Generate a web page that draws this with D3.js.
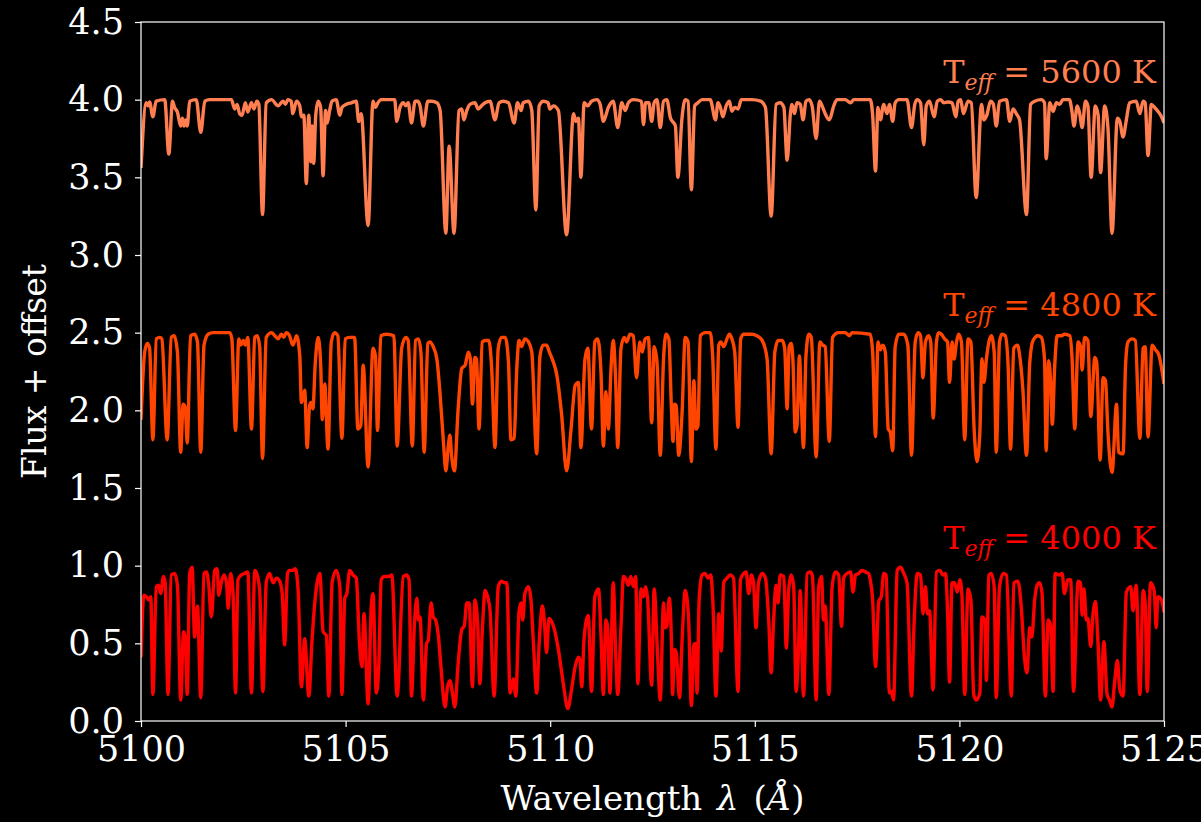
<!DOCTYPE html>
<html>
<head>
<meta charset="utf-8">
<script src="https://cdn.jsdelivr.net/npm/d3@7"></script>
<style>
  body { margin: 0; background: #000; }
  svg { display: block; }
  text { font-family: "DejaVu Serif", serif; fill: #fff; }
</style>
</head>
<body>
<div id="chart"></div>
<script>
// wavelength is lambda0 + first value, second value is normalised flux
const lambda0 = 5100;

const spec5600 = [
  [0.00,0.56],[0.13,0.98],[0.17,0.96],[0.21,0.985],[0.29,0.89],[0.37,0.99],[0.58,1.0],[0.68,0.65],[0.77,0.99],[0.82,0.95],
  [0.89,0.92],[0.97,0.83],[1.01,0.88],[1.05,0.83],[1.09,0.87],[1.13,0.83],[1.19,0.99],[1.35,1.0],[1.46,0.79],[1.56,0.99],
  [1.68,1.0],[2.21,1.0],[2.29,0.94],[2.35,0.97],[2.41,0.91],[2.47,0.90],[2.55,0.98],[2.61,0.92],[2.70,0.98],[2.76,0.94],
  [2.83,0.99],[2.88,0.97],[2.97,0.26],[3.06,0.98],[3.19,1.0],[3.35,0.96],[3.47,0.99],[3.53,0.97],[3.59,1.0],[3.67,0.99],
  [3.71,0.91],[3.80,0.99],[3.88,0.96],[3.92,0.89],[3.98,0.90],[4.04,0.46],[4.10,0.90],[4.15,0.60],[4.18,0.83],[4.22,0.59],
  [4.27,0.90],[4.33,0.99],[4.39,0.95],[4.45,0.51],[4.51,0.93],[4.55,0.85],[4.61,0.93],[4.67,0.99],[4.77,1.0],[4.86,0.90],
  [4.91,0.95],[5.02,0.97],[5.14,0.98],[5.26,0.99],[5.32,0.86],[5.38,0.91],[5.55,0.19],[5.67,0.99],[5.73,0.95],[5.79,0.98],
  [5.87,1.0],[6.20,1.0],[6.25,0.86],[6.33,0.95],[6.41,0.98],[6.47,0.96],[6.53,0.98],[6.61,0.85],[6.70,0.99],[6.76,0.99],
  [6.82,0.96],[6.90,0.83],[7.01,0.99],[7.10,0.99],[7.23,0.98],[7.31,0.93],[7.45,0.14],[7.53,0.70],[7.65,0.14],[7.77,0.93],
  [7.84,0.94],[7.89,0.87],[7.96,0.93],[8.04,0.97],[8.16,0.98],[8.24,0.94],[8.32,0.96],[8.41,0.98],[8.53,0.99],[8.65,0.87],
  [8.75,0.98],[8.85,0.99],[8.98,0.98],[9.12,0.85],[9.20,0.98],[9.29,0.93],[9.34,0.98],[9.47,0.99],[9.55,0.93],[9.65,0.29],
  [9.73,0.96],[9.83,0.99],[9.95,0.98],[9.99,0.94],[10.08,0.96],[10.20,0.93],[10.40,0.13],[10.57,0.91],[10.63,0.86],[10.69,0.88],
  [10.75,0.50],[10.83,0.98],[10.92,0.96],[11.01,0.99],[11.14,1.0],[11.22,0.97],[11.30,0.86],[11.42,0.95],[11.54,0.99],[11.65,0.82],
  [11.75,0.98],[11.83,0.93],[11.91,0.98],[12.03,1.0],[12.23,0.99],[12.28,0.84],[12.33,0.98],[12.41,0.98],[12.48,0.86],[12.54,0.98],
  [12.61,1.0],[12.69,0.82],[12.77,0.99],[12.85,1.0],[12.94,0.88],[13.02,0.85],[13.06,0.83],[13.12,0.50],[13.22,0.88],[13.30,1.0],
  [13.37,0.99],[13.45,0.42],[13.53,0.96],[13.61,0.98],[13.71,1.0],[13.91,1.0],[14.04,0.87],[14.10,0.98],[14.16,0.95],[14.22,0.89],
  [14.30,0.96],[14.38,0.99],[14.44,0.925],[14.51,0.95],[14.59,0.94],[14.67,1.0],[14.93,1.0],[15.14,0.99],[15.26,0.95],[15.40,0.25],
  [15.52,0.97],[15.62,0.98],[15.71,0.95],[15.79,0.61],[15.87,0.91],[15.91,0.97],[15.97,0.91],[16.03,0.98],[16.11,0.97],[16.18,0.87],
  [16.25,0.99],[16.33,1.0],[16.40,0.96],[16.50,0.75],[16.58,0.99],[16.66,0.95],[16.72,0.91],[16.82,0.87],[16.93,0.96],[17.01,1.0],
  [17.21,1.0],[17.34,0.98],[17.42,1.0],[17.82,1.0],[17.88,0.90],[17.95,0.54],[18.01,0.95],[18.07,0.87],[18.15,0.97],[18.23,0.91],
  [18.29,0.97],[18.37,0.86],[18.43,0.98],[18.52,1.0],[18.72,1.0],[18.83,0.82],[18.91,0.97],[18.97,1.0],[19.05,0.98],[19.13,0.71],
  [19.19,0.96],[19.27,0.99],[19.38,0.89],[19.46,0.99],[19.54,1.0],[19.62,0.98],[19.72,0.985],[19.82,0.98],[19.91,0.89],[19.97,0.99],
  [20.03,1.0],[20.10,0.91],[20.21,0.99],[20.29,0.98],[20.41,0.37],[20.54,0.97],[20.60,0.87],[20.67,0.90],[20.76,0.99],[20.83,0.97],
  [20.90,0.83],[20.98,0.99],[21.15,1.0],[21.23,0.86],[21.31,0.94],[21.39,0.91],[21.47,0.87],[21.64,0.26],[21.74,0.97],[21.84,0.99],
  [22.00,1.0],[22.08,0.98],[22.12,0.62],[22.21,0.98],[22.29,0.925],[22.37,0.98],[22.45,0.97],[22.53,1.0],[22.69,1.0],[22.75,0.925],
  [22.80,0.83],[22.88,0.96],[22.94,0.91],[23.00,0.82],[23.08,0.99],[23.14,0.96],[23.22,0.50],[23.32,0.96],[23.39,0.90],[23.45,0.53],
  [23.55,0.96],[23.63,0.82],[23.73,0.14],[23.86,0.88],[23.92,0.86],[24.00,0.76],[24.08,0.87],[24.16,0.98],[24.32,0.99],[24.41,0.91],
  [24.49,0.99],[24.54,0.98],[24.61,0.64],[24.69,0.97],[24.77,0.95],[24.85,0.925],[24.92,0.90],[25.0,0.85]
];

const spec4800 = [
  [0.0,0.44],[0.09,0.875],[0.155,0.93],[0.21,0.90],[0.29,0.31],[0.375,0.96],[0.46,0.97],[0.51,0.96],[0.64,0.31],[0.74,0.97],
  [0.81,0.98],[0.89,0.875],[0.97,0.23],[1.03,0.54],[1.08,0.52],[1.13,0.29],[1.21,0.98],[1.31,0.99],[1.38,0.94],[1.46,0.23],
  [1.54,0.92],[1.64,0.99],[1.76,1.0],[2.17,1.0],[2.22,0.96],[2.31,0.37],[2.39,0.96],[2.44,0.92],[2.50,0.95],[2.55,0.92],
  [2.61,0.97],[2.70,0.38],[2.78,0.97],[2.84,0.98],[2.90,0.91],[2.97,0.19],[3.06,0.97],[3.19,1.0],[3.27,0.98],[3.35,0.96],
  [3.43,0.99],[3.49,0.97],[3.55,1.0],[3.63,0.98],[3.71,0.92],[3.76,0.95],[3.80,0.98],[3.88,0.85],[3.92,0.55],[4.00,0.63],
  [4.06,0.26],[4.12,0.53],[4.16,0.55],[4.20,0.51],[4.26,0.81],[4.33,0.97],[4.39,0.80],[4.43,0.44],[4.49,0.67],[4.57,0.25],
  [4.65,0.94],[4.73,1.0],[4.81,0.98],[4.91,0.32],[4.99,0.96],[5.10,0.97],[5.22,0.97],[5.30,0.38],[5.37,0.40],[5.43,0.79],
  [5.55,0.135],[5.67,0.90],[5.73,0.85],[5.78,0.37],[5.86,0.98],[6.00,0.99],[6.18,0.98],[6.26,0.27],[6.37,0.90],[6.47,0.97],
  [6.53,0.95],[6.63,0.27],[6.71,0.95],[6.78,0.96],[6.84,0.875],[6.92,0.23],[7.01,0.93],[7.06,0.94],[7.14,0.91],[7.23,0.83],
  [7.31,0.60],[7.39,0.30],[7.45,0.11],[7.51,0.27],[7.55,0.34],[7.59,0.21],[7.66,0.11],[7.75,0.51],[7.84,0.77],[7.92,0.79],
  [8.00,0.875],[8.05,0.83],[8.10,0.54],[8.16,0.84],[8.20,0.83],[8.26,0.38],[8.34,0.94],[8.41,0.95],[8.50,0.95],[8.57,0.77],
  [8.65,0.26],[8.73,0.90],[8.81,0.97],[8.90,0.97],[8.98,0.81],[9.04,0.31],[9.12,0.32],[9.18,0.75],[9.24,0.95],[9.30,0.91],
  [9.38,0.96],[9.47,0.94],[9.55,0.875],[9.67,0.22],[9.75,0.85],[9.83,0.92],[9.91,0.92],[9.98,0.875],[10.05,0.83],[10.16,0.73],
  [10.28,0.47],[10.40,0.11],[10.51,0.38],[10.61,0.66],[10.69,0.68],[10.75,0.26],[10.85,0.83],[10.92,0.90],[11.01,0.38],[11.09,0.94],
  [11.16,0.96],[11.24,0.75],[11.30,0.27],[11.36,0.62],[11.42,0.38],[11.49,0.79],[11.54,0.95],[11.60,0.69],[11.65,0.26],[11.73,0.90],
  [11.81,0.97],[11.87,0.94],[11.95,0.99],[12.03,0.98],[12.11,0.71],[12.19,0.94],[12.25,0.875],[12.32,0.96],[12.40,0.97],[12.48,0.42],
  [12.54,0.91],[12.61,0.81],[12.69,0.21],[12.77,0.83],[12.83,0.99],[12.90,0.96],[12.96,0.53],[13.00,0.30],[13.04,0.54],[13.08,0.53],
  [13.14,0.21],[13.22,0.47],[13.30,0.97],[13.37,0.94],[13.45,0.17],[13.51,0.69],[13.56,0.38],[13.61,0.40],[13.67,0.98],[13.79,1.0],
  [13.91,1.0],[13.97,0.85],[14.05,0.25],[14.12,0.92],[14.17,0.94],[14.24,0.91],[14.32,0.96],[14.38,0.99],[14.44,0.96],[14.51,0.875],
  [14.59,0.39],[14.655,0.96],[14.73,0.99],[14.93,0.99],[15.05,0.98],[15.18,0.95],[15.30,0.83],[15.40,0.22],[15.49,0.875],[15.57,0.95],
  [15.67,0.95],[15.73,0.90],[15.79,0.51],[15.84,0.91],[15.89,0.93],[15.93,0.83],[15.99,0.36],[16.03,0.40],[16.09,0.85],[16.14,0.53],
  [16.19,0.26],[16.25,0.85],[16.32,0.99],[16.38,0.97],[16.50,0.20],[16.59,0.94],[16.66,0.92],[16.72,0.91],[16.82,0.30],[16.90,0.97],
  [17.05,1.0],[17.21,1.0],[17.31,0.98],[17.38,1.0],[17.82,0.99],[17.88,0.875],[17.95,0.33],[18.01,0.94],[18.07,0.89],[18.13,0.92],
  [18.19,0.875],[18.26,0.38],[18.31,0.36],[18.37,0.24],[18.43,0.91],[18.52,0.99],[18.64,0.99],[18.74,0.92],[18.83,0.21],[18.92,0.94],
  [18.99,1.0],[19.05,0.98],[19.11,0.71],[19.17,0.94],[19.25,0.98],[19.30,0.94],[19.36,0.45],[19.44,0.94],[19.49,1.0],[19.56,0.99],
  [19.64,0.96],[19.71,0.94],[19.76,0.68],[19.82,0.94],[19.87,0.83],[19.93,0.94],[19.98,0.99],[20.05,0.94],[20.13,0.31],[20.21,0.96],
  [20.28,0.94],[20.36,0.38],[20.43,0.17],[20.50,0.36],[20.55,0.83],[20.60,0.68],[20.66,0.83],[20.72,0.94],[20.78,0.98],[20.85,0.875],
  [20.90,0.23],[20.98,0.94],[21.04,0.99],[21.12,0.98],[21.19,0.79],[21.25,0.25],[21.33,0.90],[21.42,0.92],[21.47,0.86],[21.55,0.64],
  [21.64,0.21],[21.72,0.81],[21.80,0.95],[21.92,0.98],[22.00,0.97],[22.08,0.83],[22.12,0.24],[22.18,0.82],[22.23,0.68],[22.27,0.41],
  [22.33,0.79],[22.39,0.98],[22.49,0.98],[22.57,0.99],[22.70,0.98],[22.75,0.85],[22.82,0.38],[22.90,0.94],[22.96,0.91],[23.00,0.76],
  [23.06,0.97],[23.14,0.95],[23.21,0.46],[23.31,0.84],[23.355,0.81],[23.44,0.18],[23.51,0.71],[23.57,0.69],[23.63,0.36],[23.73,0.10],
  [23.84,0.54],[23.89,0.23],[24.00,0.22],[24.06,0.79],[24.12,0.94],[24.22,0.96],[24.30,0.95],[24.41,0.32],[24.49,0.90],[24.54,0.91],
  [24.61,0.33],[24.71,0.92],[24.79,0.89],[24.87,0.86],[25.0,0.67]
];

const spec4000 = [
  [0.0,0.41],[0.07,0.81],[0.13,0.80],[0.19,0.78],[0.24,0.80],[0.29,0.17],[0.375,0.865],[0.43,0.875],[0.48,0.82],[0.55,0.93],
  [0.59,0.89],[0.66,0.17],[0.74,0.94],[0.82,0.95],[0.89,0.875],[0.97,0.135],[1.04,0.575],[1.08,0.54],[1.13,0.17],[1.19,0.95],
  [1.25,0.99],[1.31,0.54],[1.38,0.74],[1.46,0.15],[1.54,0.95],[1.60,0.96],[1.65,0.89],[1.72,0.67],[1.80,0.97],[1.86,0.98],
  [1.90,0.81],[1.96,0.89],[2.03,0.94],[2.09,0.89],[2.13,0.725],[2.19,0.95],[2.25,0.82],[2.31,0.18],[2.37,0.91],[2.45,0.94],
  [2.53,0.95],[2.61,0.96],[2.70,0.18],[2.78,0.97],[2.84,0.94],[2.90,0.84],[2.98,0.19],[3.06,0.89],[3.14,0.95],[3.23,0.89],
  [3.31,0.92],[3.39,0.90],[3.45,0.82],[3.51,0.49],[3.58,0.95],[3.63,0.97],[3.71,0.97],[3.77,0.98],[3.84,0.84],[3.92,0.22],
  [4.00,0.53],[4.10,0.16],[4.18,0.52],[4.24,0.74],[4.37,0.95],[4.45,0.575],[4.53,0.55],[4.59,0.16],[4.67,0.89],[4.77,0.97],
  [4.86,0.865],[4.91,0.17],[4.98,0.79],[5.03,0.82],[5.10,0.97],[5.18,0.94],[5.26,0.92],[5.34,0.50],[5.40,0.35],[5.45,0.69],
  [5.55,0.11],[5.63,0.75],[5.67,0.82],[5.75,0.18],[5.81,0.35],[5.87,0.91],[5.95,0.93],[6.05,0.93],[6.13,0.94],[6.26,0.16],
  [6.41,0.93],[6.49,0.94],[6.55,0.91],[6.61,0.16],[6.68,0.61],[6.74,0.79],[6.78,0.65],[6.82,0.67],[6.90,0.135],[6.98,0.50],
  [7.02,0.52],[7.09,0.76],[7.14,0.67],[7.20,0.65],[7.27,0.54],[7.33,0.35],[7.43,0.09],[7.49,0.22],[7.55,0.26],[7.61,0.18],
  [7.67,0.09],[7.75,0.37],[7.84,0.59],[7.90,0.61],[7.96,0.76],[8.02,0.76],[8.10,0.22],[8.16,0.78],[8.23,0.61],[8.28,0.24],
  [8.34,0.575],[8.41,0.84],[8.47,0.80],[8.53,0.71],[8.63,0.16],[8.73,0.865],[8.81,0.90],[8.88,0.89],[8.94,0.89],[9.02,0.18],
  [9.10,0.27],[9.16,0.16],[9.24,0.71],[9.29,0.76],[9.33,0.65],[9.38,0.82],[9.47,0.865],[9.53,0.78],[9.59,0.50],[9.67,0.18],
  [9.73,0.50],[9.81,0.74],[9.86,0.63],[9.91,0.44],[9.97,0.66],[10.08,0.61],[10.20,0.46],[10.32,0.24],[10.43,0.08],[10.52,0.20],
  [10.61,0.35],[10.69,0.41],[10.73,0.39],[10.77,0.22],[10.83,0.54],[10.93,0.68],[11.01,0.19],[11.09,0.80],[11.18,0.85],[11.24,0.56],
  [11.30,0.17],[11.36,0.65],[11.40,0.61],[11.46,0.18],[11.54,0.89],[11.60,0.44],[11.65,0.17],[11.73,0.61],[11.79,0.93],[11.84,0.92],
  [11.91,0.875],[11.97,0.93],[12.03,0.865],[12.09,0.93],[12.14,0.24],[12.22,0.85],[12.28,0.80],[12.33,0.865],[12.38,0.79],[12.48,0.23],
  [12.54,0.85],[12.63,0.39],[12.69,0.135],[12.77,0.76],[12.81,0.60],[12.85,0.61],[12.91,0.79],[12.96,0.54],[12.99,0.17],[13.04,0.46],
  [13.08,0.44],[13.16,0.15],[13.22,0.50],[13.30,0.84],[13.38,0.67],[13.45,0.10],[13.51,0.49],[13.55,0.50],[13.59,0.18],[13.64,0.78],
  [13.71,0.94],[13.78,0.95],[13.86,0.92],[13.92,0.94],[13.98,0.74],[14.05,0.16],[14.12,0.69],[14.18,0.45],[14.24,0.89],[14.32,0.92],
  [14.40,0.94],[14.48,0.92],[14.59,0.19],[14.65,0.91],[14.73,0.95],[14.79,0.96],[14.85,0.82],[14.92,0.94],[14.97,0.89],[15.03,0.60],
  [15.09,0.89],[15.18,0.95],[15.26,0.92],[15.34,0.65],[15.40,0.31],[15.46,0.65],[15.52,0.875],[15.57,0.76],[15.62,0.94],[15.71,0.93],
  [15.77,0.47],[15.83,0.85],[15.89,0.94],[15.95,0.865],[16.01,0.19],[16.07,0.48],[16.11,0.84],[16.19,0.16],[16.28,0.95],[16.36,0.96],
  [16.41,0.93],[16.50,0.135],[16.56,0.865],[16.63,0.93],[16.68,0.65],[16.72,0.74],[16.81,0.17],[16.89,0.865],[16.97,0.96],[17.05,0.94],
  [17.12,0.61],[17.17,0.92],[17.25,0.95],[17.34,0.96],[17.40,0.83],[17.46,0.94],[17.54,0.95],[17.62,0.97],[17.70,0.96],[17.78,0.95],
  [17.82,0.91],[17.88,0.78],[17.95,0.35],[18.03,0.77],[18.09,0.80],[18.15,0.95],[18.21,0.94],[18.29,0.18],[18.34,0.19],[18.39,0.135],
  [18.48,0.97],[18.56,0.99],[18.64,0.95],[18.72,0.89],[18.83,0.16],[18.89,0.61],[18.97,0.95],[19.05,0.94],[19.11,0.69],[19.17,0.865],
  [19.22,0.69],[19.27,0.71],[19.355,0.20],[19.44,0.96],[19.52,0.97],[19.60,0.94],[19.66,0.95],[19.71,0.71],[19.76,0.25],[19.82,0.89],
  [19.88,0.89],[19.95,0.83],[20.01,0.91],[20.06,0.82],[20.13,0.17],[20.21,0.85],[20.28,0.78],[20.35,0.17],[20.41,0.135],[20.50,0.18],
  [20.55,0.67],[20.62,0.65],[20.66,0.26],[20.72,0.94],[20.78,0.95],[20.85,0.865],[20.90,0.15],[20.98,0.865],[21.07,0.95],[21.15,0.94],
  [21.27,0.16],[21.33,0.89],[21.43,0.90],[21.51,0.74],[21.59,0.41],[21.65,0.31],[21.72,0.60],[21.77,0.54],[21.84,0.78],[21.90,0.875],
  [21.96,0.89],[22.02,0.82],[22.10,0.16],[22.17,0.65],[22.23,0.61],[22.29,0.19],[22.34,0.95],[22.45,0.94],[22.51,0.95],[22.57,0.82],
  [22.65,0.91],[22.72,0.91],[22.79,0.19],[22.90,0.90],[22.96,0.89],[23.00,0.68],[23.045,0.85],[23.10,0.65],[23.14,0.66],[23.21,0.48],
  [23.265,0.69],[23.32,0.77],[23.39,0.49],[23.45,0.135],[23.53,0.51],[23.61,0.17],[23.67,0.135],[23.73,0.09],[23.79,0.24],[23.86,0.39],
  [23.92,0.20],[24.00,0.16],[24.08,0.83],[24.19,0.865],[24.24,0.71],[24.32,0.875],[24.41,0.17],[24.49,0.84],[24.54,0.76],[24.59,0.19],
  [24.67,0.89],[24.76,0.84],[24.81,0.60],[24.85,0.80],[24.94,0.78],[25.0,0.70]
];

const temps = [5600, 4800, 4000];
const offsets = [3.0, 1.5, 0.0];
const colors = ["#ff7f50", "#ff4500", "#ff0000"];
const xTicks = [5100, 5105, 5110, 5115, 5120, 5125];
const yTicks = [0.0, 0.5, 1.0, 1.5, 2.0, 2.5, 3.0, 3.5, 4.0, 4.5];

const spectra = [spec5600, spec4800, spec4000];

const width = 1201;
const height = 822;
const margin = { top: 22, right: 37, bottom: 101, left: 141 };
const w = width - margin.left - margin.right;
const h = height - margin.top - margin.bottom;

const svg = d3.select("#chart")
    .append("svg")
    .attr("width", width)
    .attr("height", height)
    .style("background", "#000");

const g = svg.append("g")
    .attr("transform", `translate(${margin.left},${margin.top})`);

const x = d3.scaleLinear().domain([5100, 5125]).range([0, w]);
const y = d3.scaleLinear().domain([0, 4.5]).range([h, 0]);

svg.append("defs").append("clipPath").attr("id", "plotclip")
    .append("rect").attr("width", w).attr("height", h);

// spectra
const line = d3.line()
    .x(d => x(lambda0 + d[0]))
    .y(d => y(d[1]))
    .curve(d3.curveMonotoneX);

const lines = g.append("g").attr("clip-path", "url(#plotclip)");
spectra.forEach((s, i) => {
    lines.append("path")
        .datum(s.map(d => [d[0], d[1] + offsets[i]]))
        .attr("fill", "none")
        .attr("stroke", colors[i])
        .attr("stroke-width", 3.4)
        .attr("stroke-linejoin", "round")
        .attr("d", line);
});

// labels
temps.forEach((t, i) => {
    const txt = g.append("text")
        .attr("x", x(5124.8))
        .attr("y", y(offsets[i] + 1.11))
        .attr("text-anchor", "end")
        .style("font-size", "32px")
        .style("fill", colors[i]);
    txt.append("tspan").text("T");
    txt.append("tspan").attr("dy", 7).style("font-size", "22px").style("font-style", "italic").text("eff");
    txt.append("tspan").attr("dy", -7).text(` = ${t} K`);
});

// axes
const xAxis = g.append("g")
    .attr("transform", `translate(0,${h})`)
    .call(d3.axisBottom(x).tickValues(xTicks).tickFormat(d3.format("d")).tickSize(6).tickPadding(9));

const yAxis = g.append("g")
    .call(d3.axisLeft(y).tickValues(yTicks).tickFormat(d3.format(".1f")).tickSize(6).tickPadding(11));

[xAxis, yAxis].forEach(a => {
    a.select(".domain").remove();
    a.selectAll("line").attr("stroke", "#fff").attr("stroke-width", 1.2);
    a.selectAll("text").style("font-size", "35px").style("font-family", "DejaVu Serif").attr("fill", "#fff");
});

g.append("rect")
    .attr("width", w).attr("height", h)
    .attr("fill", "none").attr("stroke", "#fff").attr("stroke-width", 1.2);

const xl = svg.append("text")
    .attr("x", margin.left + w / 2)
    .attr("y", 810)
    .attr("text-anchor", "middle")
    .style("font-size", "34px")
    .style("word-spacing", "4px");
xl.append("tspan").text("Wavelength ");
xl.append("tspan").style("font-style", "italic").text("λ");
xl.append("tspan").text(" (");
xl.append("tspan").style("font-style", "italic").text("Å");
xl.append("tspan").text(")");

svg.append("text")
    .attr("transform", `translate(46,${margin.top + h / 2}) rotate(-90)`)
    .attr("text-anchor", "middle")
    .style("font-size", "33px")
    .text("Flux + offset");
</script>
</body>
</html>
